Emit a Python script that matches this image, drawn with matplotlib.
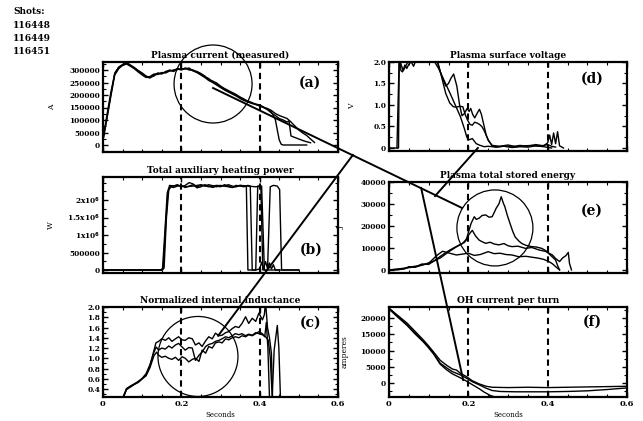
import numpy as np
import matplotlib.pyplot as plt
from matplotlib.patches import Ellipse
from matplotlib.lines import Line2D
from matplotlib.ticker import MultipleLocator, FixedLocator

# ---- data (3 shots per panel) ----
shots = ['116448', '116449', '116451']

# (a) plasma current [A]
a_t1 = [0.0, 0.01, 0.02, 0.03, 0.04, 0.05, 0.06, 0.07, 0.08, 0.09, 0.10, 0.11, 0.12, 0.13, 0.14,
        0.15, 0.16, 0.17, 0.18, 0.19, 0.20, 0.21, 0.22, 0.23, 0.24, 0.25, 0.26, 0.27, 0.28, 0.29,
        0.30, 0.31, 0.32, 0.33, 0.34, 0.35, 0.36, 0.37, 0.38, 0.39, 0.40, 0.41, 0.42, 0.43, 0.44,
        0.445, 0.45, 0.455, 0.46, 0.48, 0.50, 0.52]
a_i1 = [20000, 110000, 200000, 288000, 312000, 322000, 328000, 318000, 308000, 296000,
        285000, 272000, 268000, 280000, 288000, 286000, 292000, 300000, 294000, 306000,
        302000, 308000, 304000, 298000, 294000, 286000, 276000, 262000, 256000, 248000,
        236000, 226000, 218000, 210000, 202000, 192000, 184000, 174000, 168000, 164000,
        160000, 152000, 143000, 132000, 102000, 60000, 20000, 3000, 0, 0, 0, 0]
a_t2 = [0.0, 0.01, 0.02, 0.03, 0.04, 0.05, 0.06, 0.07, 0.08, 0.09, 0.10, 0.11, 0.12, 0.13, 0.14,
        0.15, 0.16, 0.17, 0.18, 0.19, 0.20, 0.21, 0.22, 0.23, 0.24, 0.25, 0.26, 0.27, 0.28, 0.29,
        0.30, 0.31, 0.32, 0.33, 0.34, 0.35, 0.36, 0.37, 0.38, 0.39, 0.40,
        0.41, 0.42, 0.43, 0.44, 0.45, 0.46, 0.47, 0.475, 0.48, 0.49, 0.50, 0.51, 0.52, 0.53]
a_i2 = [25000, 120000, 210000, 285000, 308000, 318000, 324000, 315000, 305000, 292000,
        280000, 270000, 274000, 284000, 282000, 290000, 288000, 296000, 300000, 304000,
        300000, 306000, 300000, 300000, 290000, 282000, 272000, 266000, 252000, 244000,
        232000, 224000, 214000, 206000, 198000, 190000, 180000, 176000, 170000, 162000, 158000,
        150000, 141000, 128000, 118000, 106000, 100000, 92000, 96000, 36000, 30000, 24000,
        18000, 13000, 9000]
a_t3 = [0.0, 0.01, 0.02, 0.03, 0.04, 0.05, 0.06, 0.07, 0.08, 0.09, 0.10, 0.11, 0.12, 0.13, 0.14,
        0.15, 0.16, 0.17, 0.18, 0.19, 0.20, 0.21, 0.22, 0.23, 0.24, 0.25, 0.26, 0.27, 0.28, 0.29,
        0.30, 0.31, 0.32, 0.33, 0.34, 0.35, 0.36, 0.37, 0.38, 0.39, 0.40,
        0.41, 0.42, 0.43, 0.44, 0.45, 0.46, 0.47, 0.48, 0.49, 0.50, 0.51, 0.52, 0.53, 0.54]
a_i3 = [18000, 105000, 195000, 280000, 305000, 320000, 330000, 320000, 310000, 298000,
        288000, 276000, 270000, 276000, 286000, 284000, 294000, 298000, 296000, 302000,
        306000, 304000, 308000, 296000, 290000, 280000, 270000, 258000, 250000, 240000,
        230000, 220000, 212000, 204000, 196000, 186000, 178000, 172000, 166000, 162000, 156000,
        150000, 146000, 138000, 126000, 118000, 112000, 106000, 92000, 76000, 60000, 48000,
        38000, 24000, 10000]

# (b) total auxiliary heating power [W]
b_t1 = [0, 0.148, 0.152, 0.158, 0.164, 0.17, 0.18, 0.19, 0.2, 0.21, 0.22, 0.23, 0.24, 0.25,
        0.26, 0.27, 0.28, 0.29, 0.3, 0.31, 0.32, 0.33, 0.34, 0.35, 0.36, 0.366, 0.37, 0.39,
        0.40, 0.405, 0.41, 0.415, 0.42, 0.425, 0.43, 0.435, 0.44, 0.5]
b_p1 = [0, 0, 50000, 1100000, 2200000, 2420000, 2400000, 2440000, 2380000, 2420000,
        2500000, 2460000, 2380000, 2420000, 2400000, 2440000, 2410000, 2380000, 2420000,
        2400000, 2440000, 2400000, 2380000, 2420000, 2400000, 2400000, 0, 0, 30000, 220000,
        40000, 240000, 50000, 200000, 30000, 150000, 0, 0]
b_t2 = [0, 0.15, 0.154, 0.16, 0.166, 0.172, 0.18, 0.19, 0.2, 0.21, 0.22, 0.23, 0.24, 0.25,
        0.26, 0.27, 0.28, 0.29, 0.30, 0.31, 0.32, 0.33, 0.34, 0.35, 0.36, 0.37, 0.376, 0.381,
        0.39, 0.395, 0.403, 0.408, 0.45]
b_p2 = [0, 0, 80000, 1300000, 2250000, 2380000, 2360000, 2400000, 2420000, 2360000,
        2400000, 2440000, 2350000, 2380000, 2440000, 2400000, 2360000, 2400000, 2380000,
        2440000, 2400000, 2360000, 2420000, 2400000, 2380000, 2420000, 2400000, 0,
        0, 2400000, 2400000, 0, 0]
b_t3 = [0, 0.152, 0.156, 0.162, 0.168, 0.175, 0.19, 0.21, 0.23, 0.25, 0.27, 0.29, 0.31, 0.33,
        0.35, 0.37, 0.39, 0.405, 0.412, 0.42, 0.427, 0.435, 0.445, 0.451, 0.456, 0.5]
b_p3 = [0, 0, 60000, 1500000, 2300000, 2400000, 2420000, 2380000, 2400000, 2440000,
        2380000, 2420000, 2400000, 2360000, 2420000, 2400000, 2380000, 2400000, 0, 0,
        2380000, 2420000, 2400000, 2300000, 0, 0]

# (c) normalized internal inductance
c_t1 = [0.05, 0.06, 0.07, 0.08, 0.09, 0.10, 0.11, 0.12, 0.13, 0.135, 0.142, 0.15, 0.159, 0.168,
        0.176, 0.185, 0.193, 0.202, 0.21, 0.219, 0.228, 0.236, 0.245, 0.253, 0.262, 0.27, 0.279,
        0.287, 0.296, 0.304, 0.313, 0.321, 0.33, 0.338, 0.347, 0.355, 0.364, 0.372, 0.381, 0.39,
        0.398, 0.407, 0.412, 0.415, 0.42, 0.425, 0.43, 0.433]
c_l1 = [0.2, 0.4, 0.45, 0.5, 0.54, 0.6, 0.68, 0.85, 1.15, 1.3, 1.33, 1.38, 1.35, 1.4, 1.33,
        1.38, 1.42, 1.36, 1.35, 1.4, 1.38, 1.26, 1.3, 1.23, 1.34, 1.42, 1.38, 1.49, 1.44, 1.45,
        1.5, 1.52, 1.58, 1.62, 1.6, 1.68, 1.81, 1.68, 1.78, 1.72, 1.88, 1.75, 1.85, 2.1, 1.6,
        1.4, 1.1, 0.2]
c_t2 = [0.05, 0.06, 0.07, 0.08, 0.09, 0.10, 0.11, 0.12, 0.13, 0.136, 0.142, 0.15, 0.159, 0.168,
        0.176, 0.185, 0.193, 0.202, 0.21, 0.219, 0.228, 0.236, 0.245, 0.253, 0.262, 0.27, 0.279,
        0.287, 0.296, 0.304, 0.313, 0.321, 0.33, 0.338, 0.347, 0.355, 0.364, 0.372, 0.381, 0.39,
        0.398, 0.407, 0.415, 0.422, 0.427, 0.432, 0.437, 0.441, 0.445, 0.449, 0.453]
c_l2 = [0.22, 0.41, 0.46, 0.5, 0.55, 0.61, 0.7, 0.88, 1.12, 1.22, 1.16, 1.2, 1.18, 1.24, 1.2,
        1.26, 1.29, 1.22, 1.16, 1.21, 1.2, 0.96, 1.06, 1.12, 1.23, 1.27, 1.29, 1.33, 1.35, 1.38,
        1.42, 1.4, 1.44, 1.48, 1.46, 1.48, 1.44, 1.47, 1.45, 1.5, 1.48, 1.46, 1.42, 1.35, 1.02,
        0.25, 1.16, 1.4, 1.64, 1.2, 0.25]
c_t3 = [0.05, 0.06, 0.07, 0.08, 0.09, 0.10, 0.11, 0.12, 0.13, 0.137, 0.142, 0.15, 0.159, 0.168,
        0.176, 0.185, 0.193, 0.202, 0.21, 0.219, 0.228, 0.236, 0.245, 0.253, 0.262, 0.27, 0.279,
        0.287, 0.296, 0.304, 0.313, 0.321, 0.33, 0.338, 0.347, 0.355, 0.364, 0.372, 0.381, 0.39,
        0.398, 0.407, 0.413, 0.417, 0.421, 0.425]
c_l3 = [0.2, 0.39, 0.44, 0.49, 0.53, 0.6, 0.66, 0.82, 1.05, 1.12, 1.06, 1.02, 1.04, 1.0, 0.98,
        1.02, 0.96, 1.03, 1.0, 0.93, 0.98, 1.0, 0.94, 1.16, 1.1, 1.23, 1.2, 1.3, 1.32, 1.3,
        1.38, 1.36, 1.4, 1.42, 1.4, 1.44, 1.42, 1.46, 1.44, 1.48, 1.52, 1.48, 1.42, 1.7, 1.2, 0.25]

# (d) plasma surface voltage [V]
d_t1 = [0.0, 0.024, 0.026, 0.03, 0.034, 0.04, 0.045, 0.05, 0.056, 0.062, 0.068, 0.075, 0.085,
        0.095, 0.105, 0.112, 0.125, 0.14, 0.154, 0.167, 0.18, 0.19, 0.196, 0.2, 0.205, 0.21,
        0.22, 0.23, 0.24, 0.25, 0.27, 0.29, 0.31, 0.33, 0.35, 0.37, 0.39, 0.40, 0.405, 0.41,
        0.415, 0.42, 0.425, 0.43, 0.44]
d_v1 = [0.0, 0.0, 2.3, 1.8, 1.77, 1.93, 1.85, 1.95, 2.0, 1.9, 2.05, 2.2, 2.3, 2.25, 2.2, 2.05,
        1.85, 1.55, 1.27, 1.0, 0.73, 0.45, 0.26, 0.19, 0.2, 0.22, 0.1, 0.06, 0.03, 0.04, 0.02,
        0.05, 0.03, 0.06, 0.04, 0.08, 0.05, 0.12, 0.3, 0.08, 0.35, 0.1, 0.38, 0.05, 0.0]
d_t2 = [0.02, 0.026, 0.03, 0.036, 0.042, 0.05, 0.06, 0.07, 0.09, 0.11, 0.12, 0.132, 0.143, 0.15,
        0.156, 0.163, 0.171, 0.178, 0.184, 0.19, 0.197, 0.202, 0.206, 0.211, 0.216, 0.223, 0.228,
        0.233, 0.24, 0.245, 0.25, 0.26, 0.28, 0.30, 0.32, 0.34, 0.36, 0.38, 0.40, 0.41, 0.42]
d_v2 = [0.0, 2.2, 1.95, 1.8, 1.9, 2.05, 2.1, 2.2, 2.3, 2.15, 2.05, 1.7, 1.44, 1.5, 1.62, 1.72,
        1.44, 1.0, 0.75, 0.8, 0.92, 0.85, 0.92, 0.78, 0.7, 0.82, 0.9, 0.78, 0.5, 0.3, 0.18, 0.06,
        0.04, 0.07, 0.03, 0.05, 0.06, 0.04, 0.08, 0.04, 0.02]
d_t3 = [0.12, 0.13, 0.143, 0.153, 0.162, 0.17, 0.178, 0.186, 0.192, 0.198, 0.204, 0.21, 0.216,
        0.222, 0.228, 0.234, 0.239, 0.245, 0.25, 0.26, 0.27, 0.29, 0.31, 0.33, 0.35, 0.37, 0.39, 0.41]
d_v3 = [2.1, 1.75, 1.27, 1.05, 0.96, 0.95, 0.97, 0.96, 0.78, 0.65, 0.55, 0.53, 0.6, 0.58, 0.55,
        0.5, 0.42, 0.3, 0.19, 0.05, 0.02, 0.04, 0.01, 0.03, 0.02, 0.05, 0.03, 0.0]

# (e) plasma total stored energy [J]
e_t1 = [0.0, 0.02, 0.04, 0.05, 0.066, 0.083, 0.1, 0.117, 0.128, 0.14, 0.153, 0.165, 0.178, 0.19,
        0.195, 0.2, 0.207, 0.215, 0.22, 0.227, 0.235, 0.244, 0.252, 0.26, 0.265, 0.27, 0.277,
        0.283, 0.288, 0.292, 0.298, 0.305, 0.312, 0.318, 0.327, 0.335, 0.345, 0.36, 0.372, 0.385,
        0.395, 0.402, 0.41, 0.42, 0.425, 0.43]
e_w1 = [0, 0, 500, 1500, 1200, 2700, 2500, 4500, 6000, 7500, 9000, 10200, 11400, 12500, 13600,
        17000, 21200, 24200, 23000, 23500, 24800, 25000, 24000, 24200, 26000, 28000, 30000,
        33300, 30500, 28800, 25000, 21200, 17500, 15000, 13200, 12000, 11200, 10600, 10400, 9800,
        8800, 7600, 6200, 4500, 2000, 0]
e_t2 = [0.0, 0.03, 0.05, 0.07, 0.09, 0.11, 0.13, 0.15, 0.17, 0.185, 0.195, 0.203, 0.21, 0.218,
        0.227, 0.235, 0.244, 0.255, 0.265, 0.277, 0.29, 0.3, 0.31, 0.325, 0.344, 0.36, 0.378,
        0.395, 0.412, 0.42, 0.43, 0.438, 0.446, 0.452, 0.455, 0.46]
e_w2 = [0, 300, 1200, 1800, 2600, 3800, 5500, 8200, 10500, 12000, 14000, 16500, 18000, 15500,
        13600, 12800, 12100, 12600, 11800, 11400, 12000, 11000, 10600, 10800, 9800, 10200, 9100,
        8400, 6800, 5200, 3800, 5500, 6500, 8000, 3000, 0]
e_t3 = [0.0, 0.04, 0.07, 0.1, 0.12, 0.135, 0.153, 0.17, 0.185, 0.2, 0.215, 0.23, 0.25, 0.265,
        0.28, 0.295, 0.31, 0.327, 0.345, 0.36, 0.378, 0.39, 0.403, 0.412, 0.42, 0.43]
e_w3 = [0, 800, 1500, 3000, 6500, 8500, 7600, 6800, 7200, 7600, 6600, 7000, 8300, 7400, 7600,
        7000, 6800, 6000, 6200, 5800, 5300, 4800, 3800, 2800, 1500, 0]

# (f) OH current per turn [A]
f_t1 = [0.0, 0.02, 0.045, 0.065, 0.087, 0.1, 0.112, 0.129, 0.146, 0.16, 0.17, 0.18, 0.195, 0.21,
        0.228, 0.245, 0.26, 0.3, 0.35, 0.4, 0.45, 0.5, 0.55, 0.6]
f_i1 = [23000, 21000, 18500, 16000, 13200, 11400, 9600, 7000, 5400, 4300, 4000, 3000, 2000, 700,
        -300, -1000, -1300, -1400, -1300, -1400, -1300, -1200, -1100, -1000]
f_t2 = [0.0, 0.02, 0.045, 0.065, 0.087, 0.1, 0.112, 0.129, 0.146, 0.16, 0.18, 0.195, 0.21, 0.228,
        0.245, 0.26, 0.28, 0.32, 0.36, 0.4, 0.45, 0.5, 0.55, 0.6]
f_i2 = [23000, 20800, 18000, 15500, 12800, 11000, 9200, 6100, 4600, 3500, 2500, 1500, 400, -600,
        -1600, -2300, -2600, -2700, -2700, -2700, -2600, -2400, -2000, -1500]
f_t3 = [0.0, 0.02, 0.045, 0.065, 0.087, 0.1, 0.112, 0.129, 0.146, 0.16, 0.18, 0.195, 0.21, 0.228,
        0.24, 0.255, 0.265, 0.3, 0.4, 0.5, 0.6]
f_i3 = [22800, 20500, 17800, 15200, 12600, 10800, 9000, 5800, 4000, 2800, 1600, 600, -500, -1800,
        -2800, -3800, -4200, -4200, -4200, -4200, -4200]

W, H = 643, 421
plt.rcParams['font.family'] = 'DejaVu Serif'
plt.rcParams['font.weight'] = 'bold'
fig = plt.figure(figsize=(W / 100, H / 100), dpi=100)


def panel(box, title, tag, tagpos, ylim, yticks, ylabels, ylabel, ylab_x, minor, bottom=False):
    l, t, r, b = box
    ax = fig.add_axes([l / W, 1 - b / H, (r - l) / W, (b - t) / H])
    ax.set_xlim(0, 0.6)
    ax.set_ylim(*ylim)
    ax.set_title(title, fontsize=6.5, fontweight='bold', pad=3)
    for x in (0.2, 0.4):
        ax.axvline(x, color='k', lw=1.5, ls=(0, (3, 2)), zorder=1)
    ax.text(tagpos[0], tagpos[1], tag, transform=ax.transAxes, fontsize=10,
            fontweight='bold', ha='center', va='center')
    ax.xaxis.set_major_locator(FixedLocator([0, 0.2, 0.4, 0.6]))
    ax.xaxis.set_minor_locator(MultipleLocator(0.05))
    ax.yaxis.set_major_locator(FixedLocator(yticks))
    ax.yaxis.set_minor_locator(MultipleLocator(minor))
    ax.set_yticklabels(ylabels)
    ax.tick_params(direction='in', top=True, right=True, length=3.5, width=1.0,
                   labelsize=5.3, pad=2)
    ax.tick_params(which='minor', direction='in', top=True, right=True, length=2, width=0.8)
    if bottom:
        ax.set_xticklabels(['0', '0.2', '0.4', '0.6'])
        ax.tick_params(axis='x', labelsize=6, pad=2.5)
        ax.set_xlabel('Seconds', fontsize=5, labelpad=2)
    else:
        ax.tick_params(axis='x', labelbottom=False)
    if ylabel:
        ax.set_ylabel(ylabel, fontsize=5.5)
        ax.yaxis.set_label_coords(ylab_x, 0.5)
    for s in ax.spines.values():
        s.set_linewidth(1.6)
    return ax


ax_a = panel((103, 62, 338, 152), 'Plasma current (measured)', '(a)', (0.88, 0.77),
             (-28000, 332000), [0, 50000, 100000, 150000, 200000, 250000, 300000],
             ['0', '50000', '100000', '150000', '200000', '250000', '300000'], 'A', -0.2, 25000)
ax_b = panel((103, 177, 338, 273), 'Total auxiliary heating power', '(b)', (0.885, 0.24),
             (-86000, 2660000), [0, 500000, 1000000, 1500000, 2000000],
             ['0', '500000', r'1x10$^6$', r'1.5x10$^6$', r'2x10$^6$'], 'W', -0.205, 250000)
ax_c = panel((103, 307, 338, 397), 'Normalized internal inductance', '(c)', (0.885, 0.83),
             (0.246, 2.0), [0.4, 0.6, 0.8, 1.0, 1.2, 1.4, 1.6, 1.8, 2.0],
             ['0.4', '0.6', '0.8', '1.0', '1.2', '1.4', '1.6', '1.8', '2.0'], None, 0, 0.1,
             bottom=True)
ax_d = panel((389, 62, 627, 151), 'Plasma surface voltage', '(d)', (0.853, 0.81),
             (-0.07, 2.0), [0, 0.5, 1.0, 1.5, 2.0], ['0', '0.5', '1.0', '1.5', '2.0'],
             'V', -0.14, 0.25)
ax_e = panel((389, 182, 627, 273), 'Plasma total stored energy', '(e)', (0.853, 0.68),
             (-1400, 40000), [0, 10000, 20000, 30000, 40000],
             ['0', '10000', '20000', '30000', '40000'], 'J', -0.185, 5000)
ax_f = panel((389, 307, 627, 397), 'OH current per turn', '(f)', (0.853, 0.84),
             (-4300, 23400), [0, 5000, 10000, 15000, 20000],
             ['0', '5000', '10000', '15000', '20000'], 'amperes', -0.17, 2500, bottom=True)

series = [
    (ax_a, [(a_t1, a_i1), (a_t2, a_i2), (a_t3, a_i3)]),
    (ax_b, [(b_t1, b_p1), (b_t2, b_p2), (b_t3, b_p3)]),
    (ax_c, [(c_t1, c_l1), (c_t2, c_l2), (c_t3, c_l3)]),
    (ax_d, [(d_t1, d_v1), (d_t2, d_v2), (d_t3, d_v3)]),
    (ax_e, [(e_t1, e_w1), (e_t2, e_w2), (e_t3, e_w3)]),
    (ax_f, [(f_t1, f_i1), (f_t2, f_i2), (f_t3, f_i3)]),
]
for ax, curves in series:
    for t, v in curves:
        ax.plot(t, v, color='k', lw=1.0, zorder=2)

# shot list, top left
fig.text(13 / W, 1 - 11 / H, 'Shots:', fontsize=6.5, fontweight='bold', va='center')
for k, s in enumerate(shots):
    fig.text(13 / W, 1 - (26 + 12.5 * k) / H, s, fontsize=6.5, fontweight='bold', va='center')

# hand-drawn annotations (circles and connecting lines), anchored in panel data coords
panels = {'a': ax_a, 'b': ax_b, 'c': ax_c, 'd': ax_d, 'e': ax_e, 'f': ax_f}
circles = [('a', 0.281, 244000, 39), ('e', 0.267, 19100, 38), ('c', 0.2425, 1.036, 40)]
links = [(('a', 0.281, 228000), ('e', 0.184, 28200)),
         (('c', 0.294, 1.44), ('b', 0.638, 3290000)),
         (('e', 0.116, 33600), ('d', 0.224, 0.0)),
         (('e', 0.081, 37300), ('f', 0.187, 920))]


def to_fig(key, x, y):
    disp = panels[key].transData.transform((x, y))
    return fig.transFigure.inverted().transform(disp)


for key, x, y, r in circles:
    cx, cy = to_fig(key, x, y)
    fig.add_artist(Ellipse((cx, cy), 2 * r / W, 2 * r / H, transform=fig.transFigure,
                           fill=False, ec='k', lw=0.9, zorder=5))
for p0, p1 in links:
    x0, y0 = to_fig(*p0)
    x1, y1 = to_fig(*p1)
    fig.add_artist(Line2D([x0, x1], [y0, y1], transform=fig.transFigure, color='k', lw=1.4,
                          zorder=5))

fig.savefig('out.png', dpi=100)
